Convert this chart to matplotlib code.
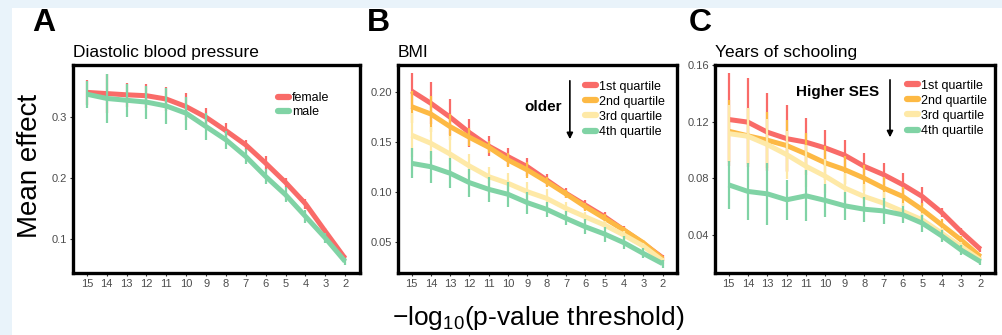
import matplotlib
matplotlib.use('Agg')
import matplotlib.pyplot as plt
from matplotlib.patches import Rectangle
from matplotlib.lines import Line2D

# p-value thresholds (-log10) shown on the x axis
thresholds = [15, 14, 13, 12, 11, 10, 9, 8, 7, 6, 5, 4, 3, 2]

# Panel A: diastolic blood pressure by sex
dbp_female = [0.341, 0.339, 0.337, 0.3355, 0.330, 0.3175, 0.300, 0.278, 0.2546, 0.2246, 0.193, 0.158, 0.1126, 0.068]
dbp_female_err = [0.020, 0.032, 0.020, 0.020, 0.020, 0.022, 0.015, 0.013, 0.008, 0.011, 0.007, 0.008, 0.006, 0.005]
dbp_male = [0.338, 0.331, 0.328, 0.325, 0.3186, 0.3066, 0.2847, 0.263, 0.2355, 0.2027, 0.1727, 0.1372, 0.1016, 0.063]
dbp_male_err = [0.022, 0.040, 0.027, 0.027, 0.029, 0.027, 0.022, 0.015, 0.012, 0.012, 0.012, 0.011, 0.008, 0.006]

# Panel B: BMI by age quartile
bmi_q1 = [0.2013, 0.189, 0.175, 0.1595, 0.146, 0.1354, 0.1253, 0.112, 0.0986, 0.0868, 0.0751, 0.0617, 0.0483, 0.034]
bmi_q1_err = [0.018, 0.021, 0.018, 0.014, 0.010, 0.009, 0.009, 0.006, 0.005, 0.005, 0.005, 0.004, 0.003, 0.003]
bmi_q2 = [0.1856, 0.1782, 0.1655, 0.1548, 0.1448, 0.132, 0.122, 0.1103, 0.098, 0.0852, 0.0735, 0.0617, 0.049, 0.033]
bmi_q2_err = [0.016, 0.018, 0.013, 0.009, 0.006, 0.007, 0.008, 0.005, 0.004, 0.004, 0.004, 0.003, 0.003, 0.002]
bmi_q3 = [0.157, 0.1488, 0.138, 0.126, 0.1153, 0.1086, 0.1002, 0.0935, 0.0835, 0.075, 0.0667, 0.0567, 0.0457, 0.031]
bmi_q3_err = [0.022, 0.016, 0.018, 0.012, 0.010, 0.010, 0.010, 0.009, 0.006, 0.005, 0.004, 0.004, 0.003, 0.003]
bmi_q4 = [0.1287, 0.1253, 0.1187, 0.1093, 0.1026, 0.0976, 0.0892, 0.0825, 0.0735, 0.065, 0.0577, 0.049, 0.0383, 0.028]
bmi_q4_err = [0.015, 0.016, 0.015, 0.014, 0.0125, 0.0125, 0.011, 0.0075, 0.007, 0.0075, 0.0075, 0.0067, 0.005, 0.004]

# Panel C: years of schooling by SES quartile
edu_q1 = [0.1216, 0.1197, 0.1126, 0.108, 0.1055, 0.1014, 0.0962, 0.0884, 0.0825, 0.0753, 0.067, 0.0557, 0.0421, 0.0296]
edu_q1_err = [0.033, 0.0315, 0.0276, 0.0235, 0.0173, 0.0126, 0.011, 0.0096, 0.0083, 0.0084, 0.0067, 0.003, 0.0025, 0.002]
edu_q2 = [0.1133, 0.110, 0.1069, 0.1031, 0.0972, 0.0908, 0.086, 0.080, 0.073, 0.067, 0.0576, 0.0469, 0.0362, 0.0244]
edu_q2_err = [0.022, 0.020, 0.020, 0.018, 0.015, 0.012, 0.010, 0.009, 0.008, 0.007, 0.005, 0.004, 0.003, 0.002]
edu_q3 = [0.1116, 0.1097, 0.1038, 0.0967, 0.0884, 0.0813, 0.073, 0.067, 0.0623, 0.0564, 0.0504, 0.041, 0.0315, 0.022]
edu_q3_err = [0.020, 0.020, 0.018, 0.017, 0.015, 0.012, 0.011, 0.009, 0.008, 0.006, 0.005, 0.004, 0.003, 0.002]
edu_q4 = [0.0753, 0.0706, 0.0689, 0.0647, 0.0675, 0.0642, 0.0604, 0.058, 0.0568, 0.054, 0.0481, 0.0391, 0.0291, 0.0208]
edu_q4_err = [0.017, 0.020, 0.022, 0.014, 0.018, 0.012, 0.010, 0.009, 0.009, 0.006, 0.006, 0.004, 0.0035, 0.002]

sex_labels = ['female', 'male']
quartile_labels = ['1st quartile', '2nd quartile', '3rd quartile', '4th quartile']

RED = '#f96b68'
ORANGE = '#fdb944'
YELLOW = '#fee9a7'
GREEN = '#80d3a5'

plt.rcParams['font.family'] = ['Liberation Sans', 'DejaVu Sans']
plt.rcParams['mathtext.fontset'] = 'custom'
plt.rcParams['mathtext.rm'] = 'Liberation Sans'
plt.rcParams['mathtext.it'] = 'Liberation Sans'
plt.rcParams['mathtext.default'] = 'regular'

fig = plt.figure(figsize=(10.02, 3.35), dpi=100)
fig.patch.set_facecolor('#e9f3fa')
# white page area, leaving a light blue strip at the top and left
fig.patches.append(Rectangle((12 / 1002, 0), 1, 1 - 8 / 335, transform=fig.transFigure,
                             facecolor='white', edgecolor='none', zorder=-10))


def draw_series(ax, ys, errs, color, label, z):
    ax.errorbar(thresholds, ys, yerr=errs, color=color, lw=3.6, elinewidth=1.6,
                capsize=0, label=label, zorder=z, solid_capstyle='butt')


def add_legend(ax, colors, labels, anchor, spacing):
    handles = [Line2D([0], [0], color=c, lw=4.5, solid_capstyle='round') for c in colors]
    ax.legend(handles, labels, loc='upper left', bbox_to_anchor=anchor, frameon=False,
              fontsize=9, handlelength=0.9, handletextpad=0.2, labelspacing=spacing,
              borderpad=0, borderaxespad=0)


def style_axes(ax, ylim, yticks, yticklabels, title):
    ax.set_xlim(15.7, 1.25)
    ax.set_ylim(*ylim)
    ax.set_xticks(thresholds)
    ax.set_xticklabels([str(t) for t in thresholds])
    ax.set_yticks(yticks)
    ax.set_yticklabels(yticklabels)
    ax.tick_params(axis='both', length=2.5, width=0.8, color='#333333',
                   labelsize=8, labelcolor='#4d4d4d', pad=2)
    for s in ax.spines.values():
        s.set_linewidth(2.4)
        s.set_color('black')
    ax.set_title(title, loc='left', fontsize=12.5, pad=6)


W, H = 1002, 335
bottom = (H - 273) / H
height = 208 / H

axA = fig.add_axes([73 / W, bottom, 287 / W, height])
draw_series(axA, dbp_female, dbp_female_err, RED, sex_labels[0], 3)
draw_series(axA, dbp_male, dbp_male_err, GREEN, sex_labels[1], 4)
style_axes(axA, (0.044, 0.386), [0.1, 0.2, 0.3], ['0.1', '0.2', '0.3'], 'Diastolic blood pressure')
add_legend(axA, [RED, GREEN], sex_labels, (0.714, 0.87), 0.15)

axB = fig.add_axes([398 / W, bottom, 279 / W, height])
for ys, errs, c, lab, z in zip([bmi_q1, bmi_q2, bmi_q3, bmi_q4],
                               [bmi_q1_err, bmi_q2_err, bmi_q3_err, bmi_q4_err],
                               [RED, ORANGE, YELLOW, GREEN], quartile_labels, [3, 4, 5, 6]):
    draw_series(axB, ys, errs, c, lab, z)
style_axes(axB, (0.0186, 0.2274), [0.05, 0.10, 0.15, 0.20], ['0.05', '0.10', '0.15', '0.20'], 'BMI')
add_legend(axB, [RED, ORANGE, YELLOW, GREEN], quartile_labels, (0.670, 0.925), 0.25)
axB.text(0.52, 0.798, 'older', transform=axB.transAxes, ha='center', va='center',
         fontsize=11, fontweight='bold')
axB.annotate('', xy=(0.616, 0.63), xytext=(0.616, 0.9375), xycoords='axes fraction',
             arrowprops=dict(arrowstyle='-|>', color='black', lw=1.2, mutation_scale=9))

axC = fig.add_axes([715 / W, bottom, 280 / W, height])
for ys, errs, c, lab, z in zip([edu_q1, edu_q2, edu_q3, edu_q4],
                               [edu_q1_err, edu_q2_err, edu_q3_err, edu_q4_err],
                               [RED, ORANGE, YELLOW, GREEN], quartile_labels, [3, 4, 5, 6]):
    draw_series(axC, ys, errs, c, lab, z)
style_axes(axC, (0.0128, 0.1602), [0.04, 0.08, 0.12, 0.16], ['0.04', '0.08', '0.12', '0.16'], 'Years of schooling')
add_legend(axC, [RED, ORANGE, YELLOW, GREEN], quartile_labels, (0.686, 0.93), 0.25)
axC.text(0.439, 0.870, 'Higher SES', transform=axC.transAxes, ha='center', va='center',
         fontsize=11, fontweight='bold')
axC.annotate('', xy=(0.625, 0.639), xytext=(0.625, 0.942), xycoords='axes fraction',
             arrowprops=dict(arrowstyle='-|>', color='black', lw=1.2, mutation_scale=9))

for letter, x in zip(['A', 'B', 'C'], [44, 378, 700]):
    fig.text(x / W, 1 - 23 / H, letter, ha='center', va='center', fontsize=23, fontweight='bold')

fig.text(30 / W, 1 - 166 / H, 'Mean effect', rotation=90, ha='center', va='center', fontsize=20)
fig.text(538 / W, 1 - 318 / H, '\u2212log$_{10}$(p-value threshold)', ha='center', va='center', fontsize=19)

fig.savefig('out.png', dpi=100, facecolor=fig.get_facecolor())
